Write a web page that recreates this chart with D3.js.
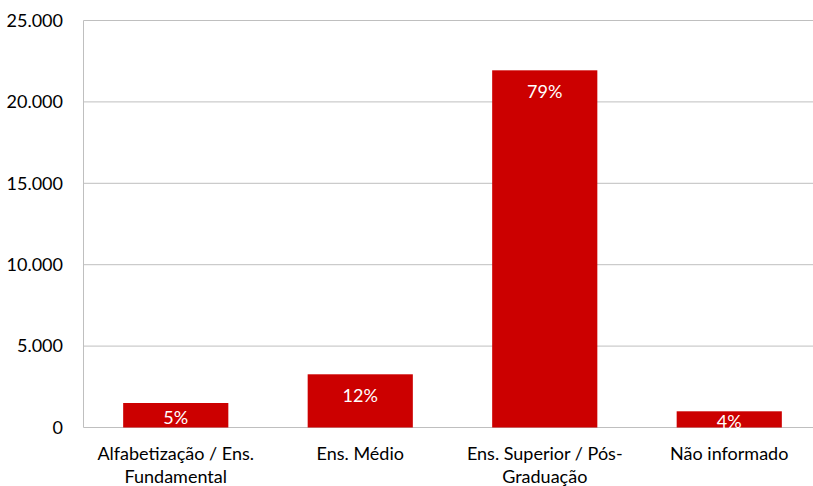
<!DOCTYPE html>
<html>
<head>
<meta charset="utf-8">
<script src="https://cdn.jsdelivr.net/npm/d3@7"></script>
<style>
  body { margin: 0; background: #fff; }
  text { font-family: Lato, "Open Sans", sans-serif; }
</style>
</head>
<body>
<svg width="813" height="486"></svg>
<script>
// dados
var categorias = [["Alfabetização / Ens.", "Fundamental"], ["Ens. Médio"], ["Ens. Superior / Pós-", "Graduação"], ["Não informado"]];
var valores = [1505, 3268, 21940, 995];
var rotulos = ["5%", "12%", "79%", "4%"];
var ticksY = [0, 5000, 10000, 15000, 20000, 25000];

var svg = d3.select("svg");
var mEsq = 83.5, mDir = 821.5, mTopo = 20.5, mBase = 427.5;

var x = d3.scaleBand()
  .domain(d3.range(valores.length))
  .range([mEsq, mDir])
  .paddingInner(0.43)
  .paddingOuter(0.215);

var y = d3.scaleLinear().domain([0, 25000]).range([mBase, mTopo]);

var fmt = function(d) { return d === 0 ? "0" : d3.format(",")(d).replace(/,/g, "."); };

// linhas de grade
svg.append("g").selectAll("line")
  .data(ticksY)
  .enter().append("line")
  .attr("x1", mEsq).attr("x2", mDir)
  .attr("y1", function(d) { return y(d); })
  .attr("y2", function(d) { return y(d); })
  .attr("stroke", "#bfbfbf").attr("stroke-width", 1);

svg.append("line")
  .attr("x1", mEsq).attr("x2", mEsq)
  .attr("y1", mTopo).attr("y2", mBase)
  .attr("stroke", "#bfbfbf");

svg.append("g").selectAll("text")
  .data(ticksY)
  .enter().append("text")
  .attr("x", 63)
  .attr("y", function(d) { return y(d); })
  .attr("dy", "0.35em")
  .attr("text-anchor", "end")
  .attr("font-size", 18)
  .attr("fill", "#000")
  .text(fmt);

// barras
svg.append("g").selectAll("rect")
  .data(valores)
  .enter().append("rect")
  .attr("x", function(d, i) { return x(i); })
  .attr("width", x.bandwidth())
  .attr("y", function(d) { return y(d); })
  .attr("height", function(d) { return mBase - y(d); })
  .attr("fill", "#cc0000");

svg.append("g").selectAll("text")
  .data(valores)
  .enter().append("text")
  .attr("x", function(d, i) { return x(i) + x.bandwidth() / 2; })
  .attr("y", function(d) {
    var h = mBase - y(d);
    return h > 42 ? y(d) + 21 : y(d) + h / 2 + 2;
  })
  .attr("dy", "0.35em")
  .attr("text-anchor", "middle")
  .attr("font-size", 18)
  .attr("fill", "#fff")
  .text(function(d, i) { return rotulos[i]; });

// categorias
var cat = svg.append("g").selectAll("text")
  .data(categorias)
  .enter().append("text")
  .attr("text-anchor", "middle")
  .attr("font-size", 18)
  .attr("fill", "#000");
cat.each(function(linhas, i) {
  d3.select(this).selectAll("tspan")
    .data(linhas)
    .enter().append("tspan")
    .attr("x", x(i) + x.bandwidth() / 2)
    .attr("y", function(d, j) { return 454 + j * 22.5; })
    .attr("dy", "0.35em")
    .text(function(d) { return d; });
});
</script>
</body>
</html>
